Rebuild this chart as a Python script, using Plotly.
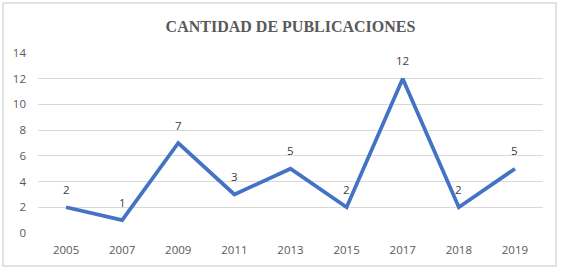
import plotly.graph_objects as go

years = ["2005", "2007", "2009", "2011", "2013", "2015", "2017", "2018", "2019"]
counts = [2, 1, 7, 3, 5, 2, 12, 2, 5]
y_ticks = [0, 2, 4, 6, 8, 10, 12, 14]

fig = go.Figure()
fig.add_trace(go.Scatter(
    x=years, y=counts, mode="lines",
    line=dict(color="#4472C4", width=3.75),
    cliponaxis=False, hoverinfo="skip"
))

# category axis: annotation x uses the category serial number
for i, v in enumerate(counts):
    fig.add_annotation(x=i, y=v, xref="x", yref="y", text=str(v), showarrow=False, yshift=18,
                       font=dict(family="Open Sans, Liberation Sans, sans-serif", size=11.5, color="#404040"))

L, R, T, B = 38, 543, 53, 233
W, H = 562, 270
pw, ph = R - L, B - T

fig.update_layout(
    width=W, height=H,
    margin=dict(l=L, r=W - R, t=T, b=H - B),
    paper_bgcolor="white", plot_bgcolor="white",
    showlegend=False,
    title=dict(text="<b>CANTIDAD DE PUBLICACIONES</b>", x=0.5, xref="paper", y=(H - 26) / H, yanchor="middle",
               font=dict(family="Liberation Serif, Times New Roman, serif", size=16, color="#595959")),
    xaxis=dict(type="category", categoryorder="array", categoryarray=years,
               range=[-0.5, len(years) - 0.5],
               showgrid=False, showline=False, zeroline=False, ticks="", ticklabelstandoff=8,
               tickfont=dict(family="Open Sans, Liberation Sans, sans-serif", size=11.5, color="#595959")),
    yaxis=dict(range=[0, 14], tickvals=y_ticks, showgrid=True, gridcolor="#D9D9D9", gridwidth=1,
               zeroline=False, showline=False, ticks="", ticklabelstandoff=11,
               tickfont=dict(family="Open Sans, Liberation Sans, sans-serif", size=11.5, color="#595959")),
)

fig.add_shape(type="rect", xref="paper", yref="paper",
              x0=(3 - L) / pw, x1=(556 - L) / pw, y0=(B - 266) / ph, y1=(B - 3) / ph,
              line=dict(color="#D9D9D9", width=1.5), fillcolor="rgba(0,0,0,0)", layer="below")

fig.write_html("out.html", config={"displayModeBar": False},
               post_script="document.body.style.margin='0';document.body.style.overflow='hidden';")
